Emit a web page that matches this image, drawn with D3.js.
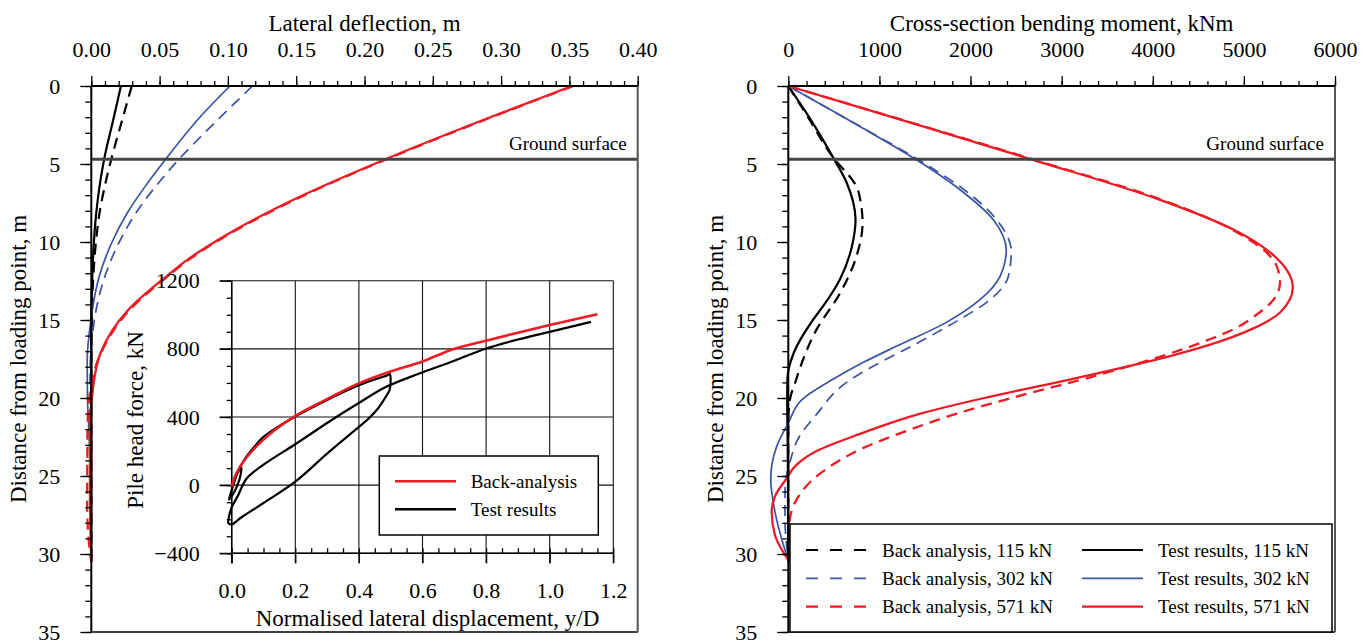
<!DOCTYPE html>
<html>
<head>
<meta charset="utf-8">
<script src="https://cdn.jsdelivr.net/npm/d3@7"></script>
<style>
  body { margin: 0; background: #fff; }
  svg { display: block; }
</style>
</head>
<body>
<svg id="chart" width="1370" height="640"></svg>
<script>
// ---------- data ----------
const groundDepth = 4.7;

// left chart: lateral deflection (m) against depth (m)
const deflBa115Depth = [0, 2, 4.74, 6.45, 8.16, 10, 12, 14, 16, 20, 25, 30.5];
const deflBa115 = [0.0296, 0.0232, 0.0145, 0.0098, 0.006, 0.0034, 0.0016, 0.0006, 0.0001, 0, 0, 0];
const deflTr115Depth = [0, 2, 4.74, 6.45, 8.16, 10, 12, 14, 16, 20, 25, 30.5];
const deflTr115 = [0.0217, 0.0165, 0.0093, 0.006, 0.0036, 0.0019, 0.0008, 0.0002, 0, 0, 0, 0];
const deflBa302Depth = [0, 2, 4.74, 6.45, 8.16, 10, 11.15, 12.2, 14.36, 16, 18, 22, 26, 30.5];
const deflBa302 = [0.118, 0.0945, 0.0637, 0.047, 0.0325, 0.0205, 0.0145, 0.01, 0.0035, 0.0008, -0.0008, -0.001, -0.0008, 0];
const deflTr302Depth = [0, 2, 4.74, 6.45, 8.16, 10, 12.2, 14, 15, 17.6, 20, 22, 25, 30.5];
const deflTr302 = [0.1015, 0.0795, 0.054, 0.0393, 0.0262, 0.0152, 0.0058, 0.0014, -0.0003, -0.003, -0.0028, -0.0018, -0.0006, 0];
const deflBa571Depth = [0, 2, 4.74, 6.88, 9.44, 11.1, 12.2, 14.36, 17.1, 20, 22, 27, 29, 30.5];
const deflBa571 = [0.353, 0.293, 0.215, 0.159, 0.102, 0.072, 0.056, 0.028, 0.0072, -0.0015, -0.0028, -0.003, -0.002, 0];
const deflTr571Depth = [0, 2, 4.74, 6.88, 9.44, 11.1, 12.2, 14.36, 17.1, 19.7, 22, 26, 30.5];
const deflTr571 = [0.352, 0.292, 0.214, 0.158, 0.101, 0.071, 0.055, 0.027, 0.0068, 0.0008, -0.001, -0.001, 0];

// right chart: bending moment (kNm) against depth (m)
const momBa115Depth = [0, 2, 4.73, 6.0, 6.65, 8.8, 10.9, 13.3, 15.6, 18.4, 18.8, 20.1, 21.5, 25, 30.5];
const momBa115 = [0, 216, 512, 700, 765, 815, 749, 566, 311, 110, 88, 18, 0, 0, 0];
const momTr115Depth = [0, 1.96, 4.52, 6.2, 8.57, 9.85, 12.4, 14.1, 15.0, 17.1, 18.8, 20, 24, 30.5];
const momTr115 = [0, 225, 486, 641, 738, 714, 566, 384, 270, 60, -10, -12, -5, 0];
const momBa302Depth = [0, 2.6, 4.73, 6.65, 8.57, 10.6, 12.2, 13.7, 15, 16.5, 18.4, 19.0, 21.2, 22.4, 24.1, 25.8, 27.8, 30.4];
const momBa302 = [0, 790, 1430, 1930, 2287, 2447, 2415, 2214, 1870, 1409, 800, 640, 290, 128, 18, -36, -36, 0];
const momTr302Depth = [0, 2.6, 4.73, 6.65, 8.57, 10.5, 12.2, 13.7, 15.2, 16.7, 17.7, 18.8, 20.1, 21.6, 23.1, 25.2, 27.3, 29.05, 30.4];
const momTr302 = [0, 787, 1406, 1885, 2250, 2392, 2324, 2104, 1720, 1180, 830, 490, 150, 0, -127, -193, -146, -72, 0];
const momBa571Depth = [0, 2, 4.73, 7.3, 9.2, 11.56, 12.6, 13.7, 14.65, 15.6, 16.25, 18.5, 20, 21, 22, 23.3, 24.25, 25.4, 26.5, 27.0, 28, 30.4];
const momBa571 = [0, 1150, 2700, 4100, 4870, 5361, 5397, 5324, 5142, 4884, 4620, 3420, 2450, 1850, 1350, 787, 494, 238, 92, 50, 12, 0];
const momTr571Depth = [0, 2, 4.73, 7.3, 9.2, 10.5, 12.94, 14.5, 15.6, 16.6, 17.3, 18.8, 20, 21, 22.3, 23.4, 24.5, 25, 26.3, 27.3, 28.8, 30.4];
const momTr571 = [0, 1140, 2683, 4080, 4884, 5251, 5537, 5400, 5080, 4620, 4200, 3100, 2150, 1450, 787, 311, 55, 0, -146, -182, -146, 0];

// inset: pile head force (kN) against normalised displacement y/D
const backAnalysisYD = [0, 0.01, 0.026, 0.0575, 0.1, 0.199, 0.3, 0.403, 0.49, 0.6, 0.696, 0.8, 0.9, 1.0, 1.15];
const backAnalysisF = [-10, 50, 107, 186, 268, 405, 505, 600, 661, 726, 798, 848, 895, 940, 1003];
const testYD = [0, 0.015, 0.03, 0.028, 0.018, 0.005, -0.008, -0.005, 0.005, 0.02, 0.04, 0.07, 0.1, 0.15, 0.2, 0.25, 0.3, 0.35, 0.4, 0.45, 0.49, 0.497,
  0.497, 0.485, 0.46, 0.43, 0.4, 0.3, 0.2, 0.1, 0.03, 0.0, -0.01, -0.008, 0.0, 0.02, 0.047, 0.1, 0.2, 0.3, 0.397, 0.486, 0.59, 0.7, 0.8, 0.9, 1.0, 1.13];
const testF = [0, 60, 105, 60, 0, -50, -85, -60, 0, 80, 150, 222, 283, 348, 402, 452, 500, 545, 586, 620, 645, 652,
  562, 520, 450, 390, 342, 185, 20, -105, -190, -230, -225, -180, -130, -60, 39, 120, 240, 365, 479, 577, 655, 730, 802, 855, 900, 958];

const loads = ["115", "302", "571"];

// ---------- setup ----------
const FONT = '"Liberation Serif", "Times New Roman", serif';
const RED = "#ed1c24", BLUE = "#3a53a4", BLACK = "#000";
const svg = d3.select("#chart").attr("font-family", FONT);

const plotTop = 86, plotBottom = 632;
const yDepth = d3.scaleLinear().domain([0, 35]).range([plotTop, plotBottom]);
const xDefl = d3.scaleLinear().domain([0, 0.4]).range([91.3, 637.7]);
const xMom = d3.scaleLinear().domain([0, 6000]).range([788.3, 1335]);

const zip = (a, b) => a.map((v, i) => [v, b[i]]);

function styleAxis(sel, size) {
  sel.attr("font-family", FONT).attr("font-size", size);
  sel.selectAll("text").attr("fill", "#000");
  sel.selectAll("line").attr("stroke", "#000").attr("stroke-width", 1.3);
  sel.select(".domain").remove();
}

function panel(x, xMajors, xMinors, xFmt, xTitle, series, legendFn) {
  const g = svg.append("g");
  const x0 = x.range()[0], x1 = x.range()[1];

  // curves
  const line = d3.line()
    .x(d => x(d[1]))
    .y(d => yDepth(d[0]))
    .curve(d3.curveMonotoneY);
  series.forEach(s => {
    g.append("path")
      .attr("d", line(zip(s.depth, s.val)))
      .attr("fill", "none")
      .attr("stroke", s.color)
      .attr("stroke-width", s.width)
      .attr("stroke-dasharray", s.dash ? "11,7" : null);
  });

  // ground surface
  g.append("line")
    .attr("x1", x0).attr("x2", x1)
    .attr("y1", yDepth(groundDepth)).attr("y2", yDepth(groundDepth))
    .attr("stroke", "#444").attr("stroke-width", 3);
  g.append("text")
    .attr("x", x1 - 11).attr("y", yDepth(groundDepth) - 9)
    .attr("text-anchor", "end").attr("font-size", 19)
    .text("Ground surface");

  // frame
  g.append("line").attr("x1", x0).attr("x2", x1).attr("y1", plotTop).attr("y2", plotTop)
    .attr("stroke", "#000").attr("stroke-width", 2);
  g.append("line").attr("x1", x0).attr("x2", x1).attr("y1", plotBottom).attr("y2", plotBottom)
    .attr("stroke", "#000").attr("stroke-width", 1.5);
  g.append("line").attr("x1", x0).attr("x2", x0).attr("y1", plotTop).attr("y2", plotBottom)
    .attr("stroke", "#000").attr("stroke-width", 2);
  g.append("line").attr("x1", x1).attr("x2", x1).attr("y1", plotTop).attr("y2", plotBottom)
    .attr("stroke", "#555").attr("stroke-width", 2);

  // top axis
  g.append("g").attr("transform", `translate(0,${plotTop})`)
    .call(d3.axisTop(x).tickValues(xMinors).tickSize(5).tickFormat(""))
    .call(s => styleAxis(s, 22));
  g.append("g").attr("transform", `translate(0,${plotTop})`)
    .call(d3.axisTop(x).tickValues(xMajors).tickSize(10).tickPadding(19).tickFormat(xFmt))
    .call(s => styleAxis(s, 22));

  // left axis
  g.append("g").attr("transform", `translate(${x0},0)`)
    .call(d3.axisLeft(yDepth).tickValues(d3.range(0, 36, 1)).tickSize(6).tickFormat(""))
    .call(s => styleAxis(s, 22));
  g.append("g").attr("transform", `translate(${x0},0)`)
    .call(d3.axisLeft(yDepth).tickValues(d3.range(0, 36, 5)).tickSize(11).tickPadding(20).tickFormat(d3.format("d")))
    .call(s => styleAxis(s, 22));

  // titles
  g.append("text")
    .attr("x", (x0 + x1) / 2).attr("y", 31)
    .attr("text-anchor", "middle").attr("font-size", 23)
    .text(xTitle);
  g.append("text")
    .attr("transform", `translate(${x0 - 65},${(plotTop + plotBottom) / 2}) rotate(-90)`)
    .attr("text-anchor", "middle").attr("font-size", 23)
    .text("Distance from loading point, m");

  if (legendFn) legendFn(g);
  return g;
}

const colors = [BLACK, BLUE, RED];
const widths = [2.2, 1.7, 2.3];

// left panel
const leftSeries = [
  { depth: deflBa115Depth, val: deflBa115, color: BLACK, width: widths[0], dash: true },
  { depth: deflTr115Depth, val: deflTr115, color: BLACK, width: widths[0], dash: false },
  { depth: deflBa302Depth, val: deflBa302, color: BLUE, width: widths[1], dash: true },
  { depth: deflTr302Depth, val: deflTr302, color: BLUE, width: widths[1], dash: false },
  { depth: deflBa571Depth, val: deflBa571, color: RED, width: widths[2], dash: true },
  { depth: deflTr571Depth, val: deflTr571, color: RED, width: widths[2], dash: false }
];
panel(xDefl, d3.range(0, 0.4001, 0.05), d3.range(0, 0.4001, 0.01), d3.format(".2f"),
  "Lateral deflection, m", leftSeries, null);

// right panel
const rightSeries = [
  { depth: momBa115Depth, val: momBa115, color: BLACK, width: widths[0], dash: true },
  { depth: momBa302Depth, val: momBa302, color: BLUE, width: widths[1], dash: true },
  { depth: momBa571Depth, val: momBa571, color: RED, width: widths[2], dash: true },
  { depth: momTr115Depth, val: momTr115, color: BLACK, width: widths[0], dash: false },
  { depth: momTr302Depth, val: momTr302, color: BLUE, width: widths[1], dash: false },
  { depth: momTr571Depth, val: momTr571, color: RED, width: widths[2], dash: false }
];
panel(xMom, d3.range(0, 6001, 1000), d3.range(0, 6001, 200), d3.format("d"),
  "Cross-section bending moment, kNm", rightSeries, g => {
    const lg = g.append("g");
    lg.append("rect")
      .attr("x", 790).attr("y", 524).attr("width", 542).attr("height", 108)
      .attr("fill", "#fff").attr("stroke", "#000").attr("stroke-width", 1.5);
    loads.forEach((ld, i) => {
      const yy = 550 + i * 28.3;
      lg.append("line").attr("x1", 806).attr("x2", 868).attr("y1", yy).attr("y2", yy)
        .attr("stroke", colors[i]).attr("stroke-width", widths[i]).attr("stroke-dasharray", "12,12");
      lg.append("text").attr("x", 882).attr("y", yy + 6.5).attr("font-size", 19)
        .text(`Back analysis, ${ld} kN`);
      lg.append("line").attr("x1", 1082).attr("x2", 1143).attr("y1", yy).attr("y2", yy)
        .attr("stroke", colors[i]).attr("stroke-width", widths[i]);
      lg.append("text").attr("x", 1158).attr("y", yy + 6.5).attr("font-size", 19)
        .text(`Test results, ${ld} kN`);
    });
  });

// ---------- inset ----------
const xI = d3.scaleLinear().domain([0, 1.2]).range([231.7, 613.3]);
const yI = d3.scaleLinear().domain([-400, 1200]).range([553.3, 280.7]);
const ins = svg.append("g");

// grid
d3.range(-400, 1201, 400).forEach(v => {
  ins.append("line").attr("x1", xI(0) - 12).attr("x2", xI(1.2))
    .attr("y1", yI(v)).attr("y2", yI(v)).attr("stroke", "#111").attr("stroke-width", 1.1);
});
d3.range(0, 1.2001, 0.2).forEach(v => {
  ins.append("line").attr("x1", xI(v)).attr("x2", xI(v))
    .attr("y1", yI(1200)).attr("y2", yI(-400) + 10).attr("stroke", "#111").attr("stroke-width", 1.1);
});
ins.append("line").attr("x1", xI(0)).attr("x2", xI(0)).attr("y1", yI(1200)).attr("y2", yI(-400) + 10)
  .attr("stroke", "#000").attr("stroke-width", 1.5);
ins.append("line").attr("x1", xI(0)).attr("x2", xI(1.2)).attr("y1", yI(-400)).attr("y2", yI(-400))
  .attr("stroke", "#000").attr("stroke-width", 1.5);

// axes
ins.append("g").attr("transform", `translate(${xI(0)},0)`)
  .call(d3.axisLeft(yI).tickValues(d3.range(-400, 1201, 100)).tickSize(5).tickFormat(""))
  .call(s => styleAxis(s, 22));
ins.append("g").attr("transform", `translate(${xI(0)},0)`)
  .call(d3.axisLeft(yI).tickValues(d3.range(-400, 1201, 400)).tickSize(12).tickPadding(20).tickFormat(d3.format("d")))
  .call(s => styleAxis(s, 22));
ins.append("g").attr("transform", `translate(0,${yI(-400)})`)
  .call(d3.axisBottom(xI).tickValues(d3.range(0, 1.2001, 0.05)).tickSize(-5).tickFormat(""))
  .call(s => styleAxis(s, 22));
ins.append("g").attr("transform", `translate(0,${yI(-400)})`)
  .call(d3.axisBottom(xI).tickValues(d3.range(0, 1.2001, 0.2)).tickSize(10).tickPadding(19).tickFormat(d3.format(".1f")))
  .call(s => styleAxis(s, 22));

ins.append("text")
  .attr("x", (xI(0) + xI(1.2)) / 2 + 5).attr("y", 626)
  .attr("text-anchor", "middle").attr("font-size", 23)
  .text("Normalised lateral displacement, y/D");
ins.append("text")
  .attr("transform", `translate(${143},${420}) rotate(-90)`)
  .attr("text-anchor", "middle").attr("font-size", 23)
  .text("Pile head force, kN");

// curves
ins.append("path")
  .attr("d", d3.line().x(d => xI(d[0])).y(d => yI(d[1])).curve(d3.curveCatmullRom.alpha(0.5))(zip(testYD, testF)))
  .attr("fill", "none").attr("stroke", BLACK).attr("stroke-width", 2.2);
ins.append("path")
  .attr("d", d3.line().x(d => xI(d[0])).y(d => yI(d[1])).curve(d3.curveMonotoneX)(zip(backAnalysisYD, backAnalysisF)))
  .attr("fill", "none").attr("stroke", RED).attr("stroke-width", 2.6);

// inset legend
const il = ins.append("g");
il.append("rect").attr("x", 379.3).attr("y", 456).attr("width", 219).attr("height", 79)
  .attr("fill", "#fff").attr("stroke", "#000").attr("stroke-width", 1.5);
[["Back-analysis", RED], ["Test results", BLACK]].forEach((d, i) => {
  const yy = 481.3 + i * 28;
  il.append("line").attr("x1", 395).attr("x2", 456).attr("y1", yy).attr("y2", yy)
    .attr("stroke", d[1]).attr("stroke-width", 2.6);
  il.append("text").attr("x", 470.7).attr("y", yy + 6.5).attr("font-size", 19).text(d[0]);
});
</script>
</body>
</html>
